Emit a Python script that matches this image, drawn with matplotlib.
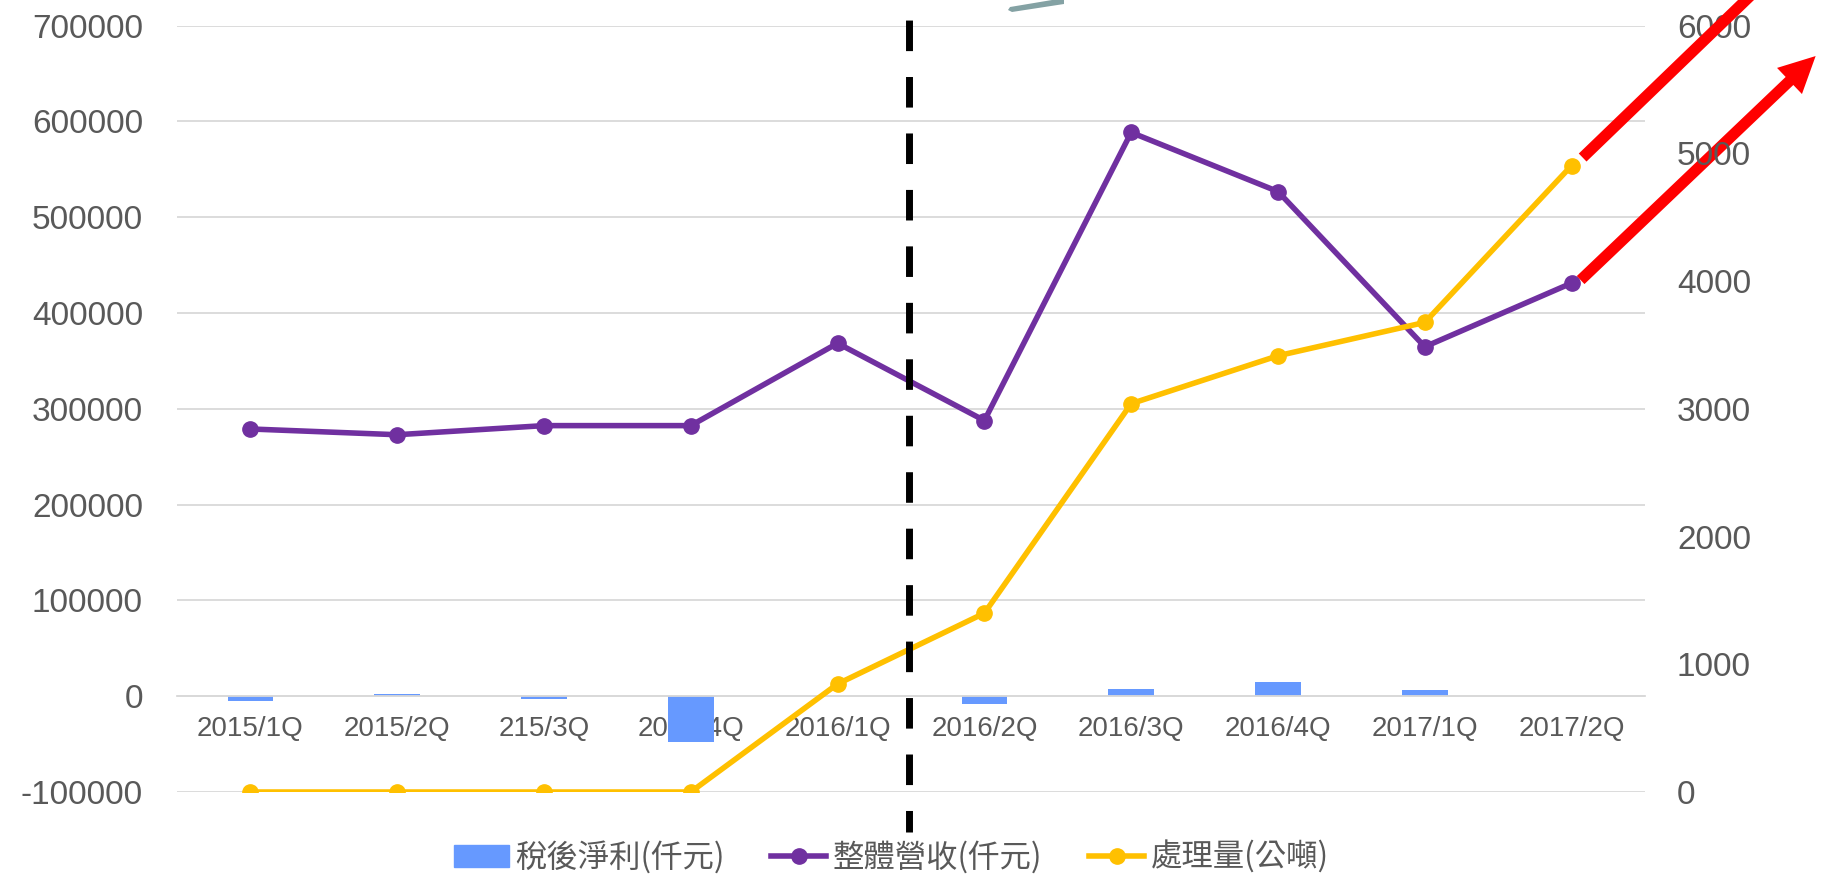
import matplotlib
matplotlib.use("Agg")
import matplotlib.pyplot as plt
from matplotlib.patches import Patch, Polygon
from matplotlib.lines import Line2D
from matplotlib.transforms import offset_copy

# data
quarters = ["2015/1Q", "2015/2Q", "215/3Q", "2015/4Q", "2016/1Q",
            "2016/2Q", "2016/3Q", "2016/4Q", "2017/1Q", "2017/2Q"]
net_profit = [-5500, 2800, -2500, -48000, 0, -8300, 7000, 14300, 6000, 0]
revenue = [278900, 272900, 282400, 282400, 368400,
           287700, 588400, 526700, 364700, 431200]
volume = [0, 0, 0, 0, 846, 1400, 3040, 3415, 3676, 4904]

left_ticks = list(range(-100000, 700001, 100000))
right_ticks = list(range(0, 6001, 1000))

bar_color = "#6699FF"
rev_color = "#7030A0"
vol_color = "#FFC000"
grid_color = "#D9D9D9"
text_color = "#595959"

plt.rcParams["font.family"] = ["Liberation Sans", "DejaVu Sans"]

fig = plt.figure(figsize=(18.26, 8.8), dpi=100)
ax = fig.add_axes([0.0969, 0.1, 0.8040, 0.871])
x = list(range(len(quarters)))

ax.bar(x, net_profit, width=0.31, color=bar_color, zorder=2)
ax.plot(x, revenue, color=rev_color, lw=4, marker="o", ms=11, zorder=3)
ax.set_xlim(-0.5, len(quarters) - 0.5)
ax.set_ylim(-100000, 700000)
ax.set_yticks(left_ticks)
ax.set_yticklabels([str(t) for t in left_ticks])  # plain hyphen for the minus
ax.yaxis.grid(True, color=grid_color, lw=1.3, zorder=0)
ax.set_axisbelow(True)
for s in ["top", "left", "right"]:
    ax.spines[s].set_visible(False)
ax.spines["bottom"].set_position(("data", 0))
ax.spines["bottom"].set_color(grid_color)
ax.spines["bottom"].set_linewidth(1.3)
ax.set_xticks(x)
ax.set_xticklabels(quarters)
ax.tick_params(axis="x", length=0, pad=14, labelsize=20, labelcolor=text_color)
ax.tick_params(axis="y", length=0, pad=24.5, labelsize=24, labelcolor=text_color)

ax2 = ax.twinx()
ax2.plot(x, volume, color=vol_color, lw=4, marker="o", ms=11, zorder=3)
ax2.set_ylim(0, 6000)
ax2.set_yticks(right_ticks)
ax2.tick_params(axis="y", length=0, pad=23, labelsize=24, labelcolor=text_color)
for s in ax2.spines.values():
    s.set_visible(False)

# dashed divider, drawn from the bottom up
ax2.plot([4.486, 4.486], [-0.0522, 1.08], transform=ax2.get_xaxis_transform(),
         color="black", lw=5, linestyle=(1.3, (4.4, 3.73)), clip_on=False, zorder=10)

# red trend arrows
arrow = dict(arrowstyle="simple,head_length=1.3,head_width=1.3,tail_width=0.4",
             mutation_scale=20, fc="#FF0000", ec="none", shrinkA=0, shrinkB=0)
ax2.annotate("", xy=(9, volume[-1]),
             xycoords=offset_copy(ax2.transData, fig=fig, x=291, y=278, units="dots"),
             xytext=(9, volume[-1]),
             textcoords=offset_copy(ax2.transData, fig=fig, x=11, y=8, units="dots"),
             arrowprops=arrow, zorder=11)
ax.annotate("", xy=(9, revenue[-1]),
            xycoords=offset_copy(ax.transData, fig=fig, x=244, y=227, units="dots"),
            xytext=(9, revenue[-1]),
            textcoords=offset_copy(ax.transData, fig=fig, x=9, y=3, units="dots"),
            arrowprops=arrow, zorder=11)

# grey fragment at top edge
fig.patches.append(Polygon([(1008, 870), (1012, 868), (1064, 876), (1064, 882), (1010, 873)],
                           closed=True, transform=None, fc="#84A2A4", ec="none"))

handles = [Patch(color=bar_color),
           Line2D([], [], color=rev_color, lw=4, marker="o", ms=11),
           Line2D([], [], color=vol_color, lw=4, marker="o", ms=11)]
labels = ["稅後淨利(仟元)", "整體營收(仟元)", "處理量(公噸)"]
fig.legend(handles, labels, loc="center", bbox_to_anchor=(0.488, 0.026), ncol=3,
           frameon=False, prop={"family": ["Noto Sans CJK TC", "DejaVu Sans"], "size": 22.6},
           handlelength=1.75, handletextpad=0.2, columnspacing=1.5, labelcolor=text_color)

fig.savefig("out.png", dpi=100)
